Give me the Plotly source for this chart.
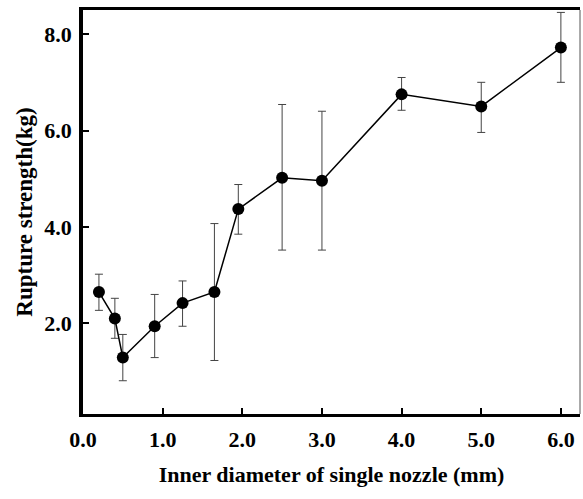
import plotly.graph_objects as go

diameter = [0.2, 0.4, 0.5, 0.9, 1.25, 1.65, 1.95, 2.5, 3.0, 4.0, 5.0, 6.0]
strength = [2.65, 2.10, 1.29, 1.94, 2.42, 2.65, 4.37, 5.02, 4.96, 6.75, 6.50, 7.72]
err_plus = [0.37, 0.42, 0.48, 0.66, 0.46, 1.42, 0.51, 1.52, 1.44, 0.35, 0.50, 0.73]
err_minus = [0.38, 0.41, 0.48, 0.65, 0.48, 1.42, 0.52, 1.50, 1.44, 0.33, 0.54, 0.72]
x_ticks = [0, 1, 2, 3, 4, 5, 6]
x_tick_labels = ["0.0", "1.0", "2.0", "3.0", "4.0", "5.0", "6.0"]
y_ticks = [2, 4, 6, 8]
y_tick_labels = ["2.0", "4.0", "6.0", "8.0"]

font_family = "Liberation Serif"

fig = go.Figure()
fig.add_trace(go.Scatter(
    x=diameter, y=strength, mode="lines+markers",
    line=dict(color="black", width=1.5),
    marker=dict(color="black", size=12),
    error_y=dict(type="data", symmetric=False, array=err_plus, arrayminus=err_minus,
                 color="#444444", thickness=1, width=4),
    showlegend=False,
))

fig.add_shape(type="line", xref="paper", yref="paper", x0=1, x1=1, y0=0, y1=1,
              line=dict(color="#555555", width=1))

fig.update_layout(
    width=583, height=499,
    margin=dict(l=83, r=3, t=10, b=85),
    paper_bgcolor="white", plot_bgcolor="white",
    font=dict(family=font_family, size=18, color="black"),
    xaxis=dict(
        range=[0, 6.24], tickvals=x_ticks, ticktext=x_tick_labels,
        showline=True, linecolor="black", linewidth=3, mirror=True,
        ticks="inside", ticklen=6, tickwidth=1.5, tickcolor="black",
        showgrid=False, zeroline=False,
        tickfont=dict(family=font_family, size=22, color="black", weight="bold"),
        ticklabelstandoff=4,
        title=dict(text="<b>Inner diameter of single nozzle (mm)</b>",
                   font=dict(family=font_family, size=22, color="black"), standoff=16),
    ),
    yaxis=dict(
        range=[0.12, 8.5], tickvals=y_ticks, ticktext=y_tick_labels,
        showline=True, linecolor="black", linewidth=3.5,
        ticks="inside", ticklen=6, tickwidth=1.5, tickcolor="black",
        showgrid=False, zeroline=False,
        tickfont=dict(family=font_family, size=22, color="black", weight="bold"),
        ticklabelstandoff=3,
        title=dict(text="<b>Rupture strength(kg)</b>",
                   font=dict(family=font_family, size=23, color="black"), standoff=6),
    ),
)

fig.write_html("out.html")
